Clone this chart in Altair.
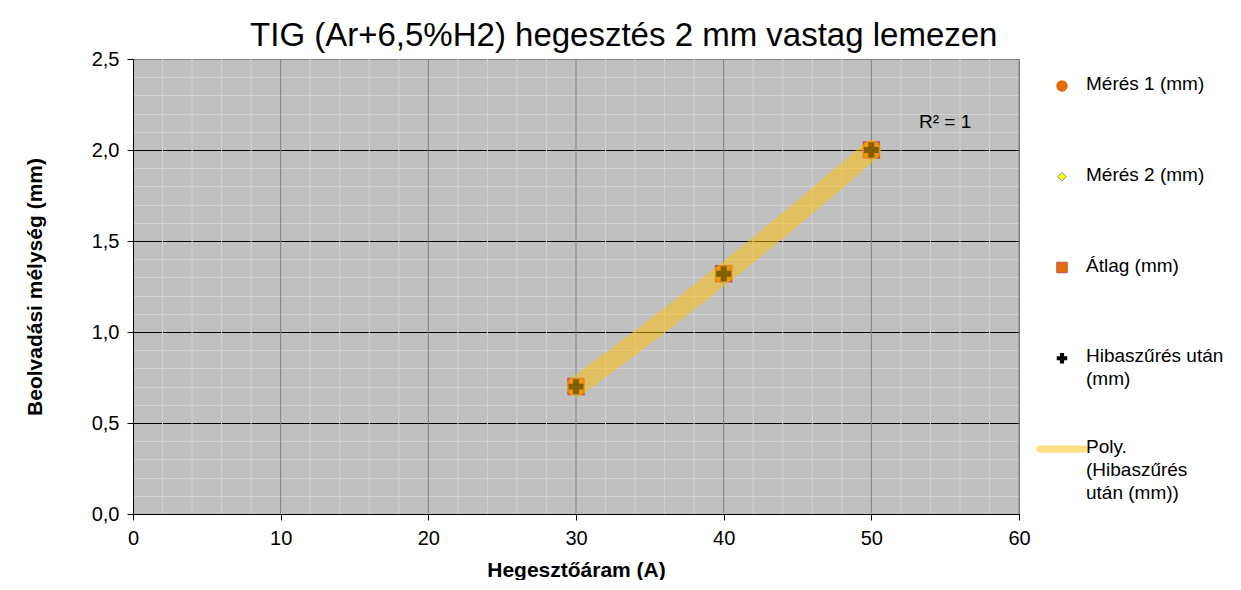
import altair as alt
import pandas as pd

FONT = "Liberation Sans"

# ---- data ----
current_a = [30, 40, 50]
meres1_mm = [0.70, 1.32, 2.00]
meres2_mm = [0.70, 1.32, 2.00]
atlag_mm = [0.70, 1.32, 2.00]
hiba_mm = [0.70, 1.32, 2.00]
series_names = ["Mérés 1 (mm)", "Mérés 2 (mm)", "Átlag (mm)", "Hibaszűrés után (mm)"]
trend_name = "Poly. (Hibaszűrés után (mm))"
legend_entries = series_names + [trend_name]
legend_labels = ["Mérés 1 (mm)", "Mérés 2 (mm)", "Átlag (mm)",
                 "Hibaszűrés után|(mm)", "Poly.|(Hibaszűrés|után (mm))"]
x_minor = list(range(0, 61, 2))
y_minor = [round(i * 0.1, 1) for i in range(26)]
chart_title = "TIG (Ar+6,5%H2) hegesztés 2 mm vastag lemezen"
x_title = "Hegesztőáram (A)"
y_title = "Beolvadási mélység (mm)"
r2_label = "R² = 1"

rows = []
for name, vals in zip(series_names, [meres1_mm, meres2_mm, atlag_mm, hiba_mm]):
    for xv, yv in zip(current_a, vals):
        rows.append({"series": name, "x": xv, "y": yv})
df = pd.DataFrame(rows)

x_major_test = "datum.value % 10 === 0"
y_major_test = "abs(datum.value * 2 - round(datum.value * 2)) < 0.001"

xaxis = alt.Axis(
    values=x_minor, tickCount=200, grid=False,
    labelExpr=f"{x_major_test} ? format(datum.value, 'd') : ''",
    tickColor={"condition": {"test": x_major_test, "value": "#000000"}, "value": "transparent"},
    tickSize=6, domainColor="#000000", labelColor="#000000",
    labelFont=FONT, labelFontSize=20, labelPadding=8,
    labelOverlap=False, labelFlush=False,
    titleFont=FONT, titleFontSize=21, titleFontWeight="bold", titleColor="#000000",
    titlePadding=11,
)
yaxis = alt.Axis(
    values=y_minor, tickCount=200,
    labelExpr=f"{y_major_test} ? replace(format(datum.value, '.1f'), '.', ',') : ''",
    gridColor={"condition": [{"test": "datum.value > 2.45", "value": "#808080"},
                             {"test": y_major_test, "value": "#000000"}],
               "value": "#D2D2D2"},
    tickColor={"condition": {"test": y_major_test, "value": "#000000"}, "value": "transparent"},
    tickSize=6, domainColor="#000000", labelColor="#000000",
    labelFont=FONT, labelFontSize=20, labelPadding=8,
    labelOverlap=False, labelFlush=False,
    titleFont=FONT, titleFontSize=21, titleFontWeight="bold", titleColor="#000000",
    titlePadding=46,
)
X = alt.X("x:Q", scale=alt.Scale(domain=[0, 60], nice=False), axis=xaxis, title=x_title)
Y = alt.Y("y:Q", scale=alt.Scale(domain=[0, 2.5], nice=False), axis=yaxis, title=y_title)

# vertical gridlines drawn as rules over the horizontal grid
vgrid = alt.Chart(pd.DataFrame({"x": x_minor})).transform_filter("datum.x > 0").mark_rule(
    strokeWidth=1).encode(
    x=X,
    color=alt.condition("datum.x % 10 === 0", alt.value("#808080"), alt.value("#D2D2D2")),
)

base = alt.Chart(df).encode(x=X, y=Y)

m1 = base.transform_filter(alt.datum.series == series_names[0]).mark_point(
    filled=True, shape="circle", size=110, fill="#E46C0A", stroke="#E46C0A", opacity=1)
m2 = base.transform_filter(alt.datum.series == series_names[1]).mark_point(
    filled=True, shape="diamond", size=110, fill="#FFFF00", stroke="#7F8FA0", strokeWidth=1, opacity=1)
m3 = base.transform_filter(alt.datum.series == series_names[2]).mark_point(
    filled=True, shape="square", size=256, fill="#E46C0A", stroke="#C0504D", strokeWidth=1.5, opacity=1)
m4 = base.transform_filter(alt.datum.series == series_names[3]).mark_point(
    filled=True, shape="cross", size=220, fill="#000000", opacity=1)
trend = base.transform_filter(alt.datum.series == series_names[3]).transform_regression(
    "x", "y", method="poly", order=2).mark_line(
    color="#FFC000", opacity=0.5, strokeWidth=20, strokeCap="round")
r2 = alt.Chart(pd.DataFrame({"label": [r2_label]})).mark_text(
    font=FONT, fontSize=19, color="#000000", align="center", baseline="middle").encode(
    x=alt.datum(55), y=alt.datum(2.154), text="label:N")

data_layers = alt.layer(vgrid, m1, m2, m3, m4, trend, r2)

# ---- legend (drawn to the right of the plot area) ----
leg_df = pd.DataFrame({"entry": legend_entries, "label": legend_labels})
LY = alt.Y("entry:N", scale=alt.Scale(domain=legend_entries, range=[27, 390], padding=0), axis=None)
SYM_X = 929
TXT_X = 953
lbase = alt.Chart(leg_df).encode(x=alt.value(SYM_X), y=LY)


def leg(i):
    return lbase.transform_filter(alt.datum.entry == legend_entries[i])


s1 = leg(0).mark_point(filled=True, shape="circle", size=90, fill="#E46C0A", stroke="#E46C0A", opacity=1)
s2 = leg(1).mark_point(filled=True, shape="diamond", size=75, fill="#FFFF00", stroke="#7F8FA0",
                       strokeWidth=1, opacity=1)
s3 = leg(2).mark_point(filled=True, shape="square", size=110, fill="#E46C0A", stroke="#C0504D",
                       strokeWidth=1, opacity=1)
s4 = leg(3).mark_point(filled=True, shape="cross", size=110, fill="#000000", opacity=1)
s5 = leg(4).mark_point(filled=False, shape="stroke", size=1936, stroke="#FFDF80", strokeWidth=7,
                       strokeCap="round", opacity=1)
txt = alt.Chart(leg_df).mark_text(font=FONT, fontSize=19, color="#000000", align="left",
                                  baseline="top", dy=-11, lineBreak="|", lineHeight=23).encode(
    x=alt.value(TXT_X), y=LY, text="label:N")
legend_layers = alt.layer(s1, s2, s3, s4, s5, txt)

chart = alt.layer(data_layers, legend_layers).resolve_scale(y="independent").properties(
    width=886, height=455,
    view=alt.ViewBackground(fill="#C0C0C0", stroke="#808080"),
    title=alt.Title(chart_title, font=FONT, fontSize=33, fontWeight="normal",
                    color="#000000", anchor="middle", frame="bounds", offset=-4),
    padding={"left": 16, "top": 12, "right": 6, "bottom": 0},
    background="#FFFFFF",
)

chart.save("out.html", embed_options={"renderer": "svg", "actions": False})
